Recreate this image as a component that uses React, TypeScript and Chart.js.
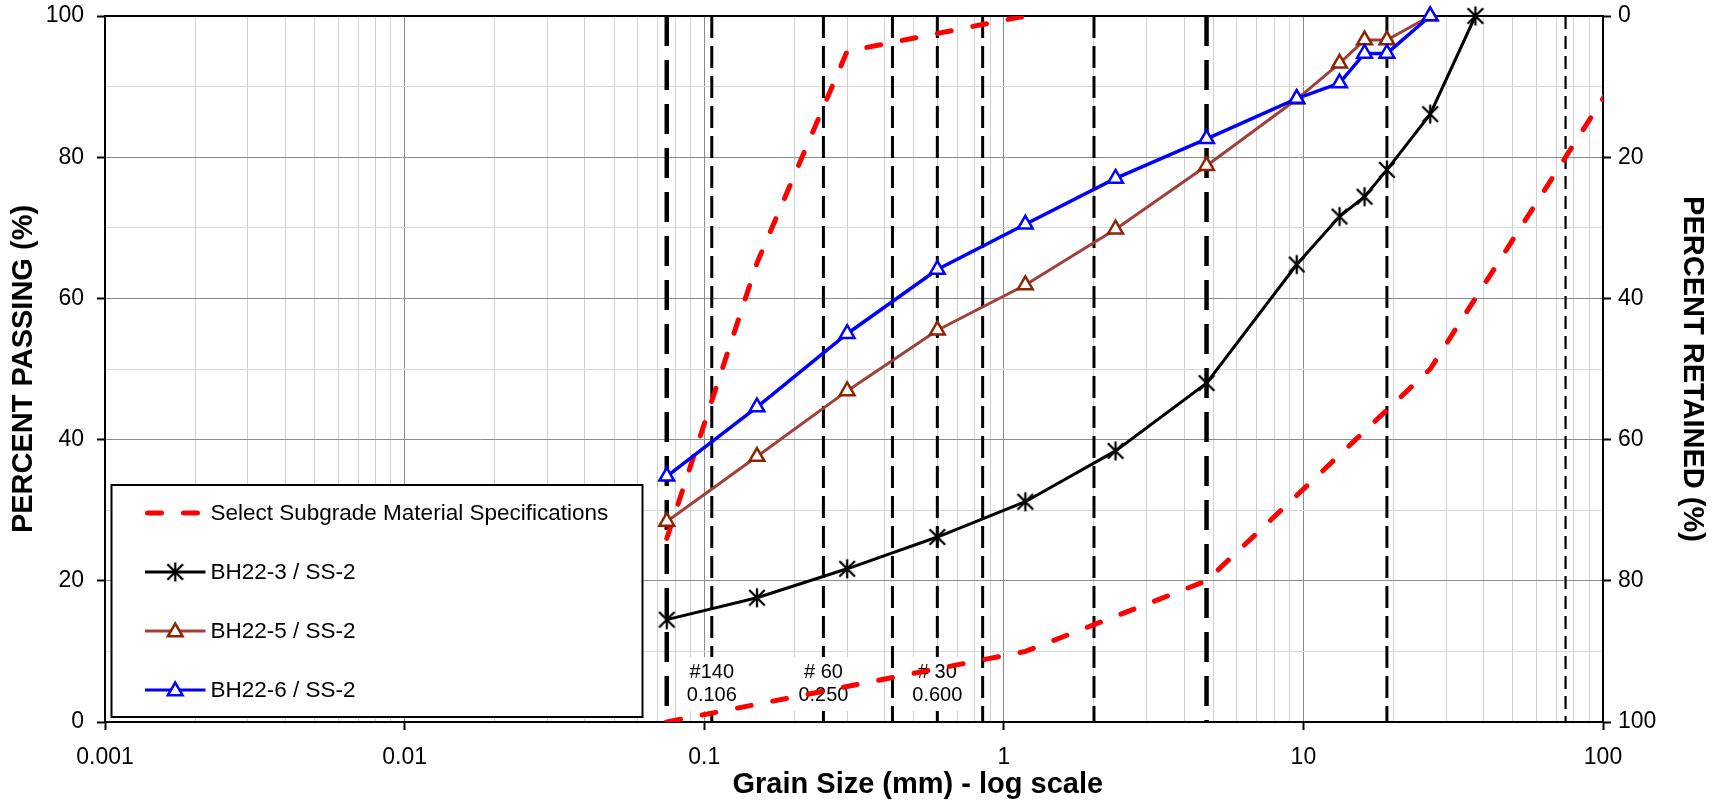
import React, { useEffect, useRef } from 'react';
import { Chart, registerables } from 'chart.js';

Chart.register(...registerables);

const FONT = '"Liberation Sans", Arial, Helvetica, sans-serif';

// ---- data (grain size in mm, percent passing) ----
const sieveSizes = [0.075, 0.15, 0.3, 0.6, 1.18, 2.36, 4.75, 9.5, 13.2, 16, 19, 26.5, 37.5];
const bh22_3Passing = [14.5, 17.6, 21.7, 26.2, 31.2, 38.4, 48.0, 64.8, 71.6, 74.4, 78.2, 86.1, 100];
const bh22_5Passing = [28.4, 37.6, 46.9, 55.5, 61.9, 69.8, 78.8, 88.2, 93.3, 96.6, 96.6, 100];
const bh22_6Passing = [34.8, 44.6, 55.0, 64.1, 70.5, 77.0, 82.6, 88.3, 90.5, 94.7, 94.7, 100];

const specUpperSizes = [0.075, 0.15, 0.3, 1.18];
const specUpperPassing = [26, 65, 95, 100];
const specLowerSizes = [0.075, 1.18, 4.75, 26.5, 75, 150];
const specLowerPassing = [0, 10, 20, 50, 80, 100];

const sieveLineSizes = [0.075, 0.106, 0.25, 0.425, 0.6, 0.85, 2.0, 4.75, 19, 75];
const heavySieveLines = [0.075, 4.75];
const lightSieveLines = [75];

const sieveLabelSizes = [0.106, 0.25, 0.6];
const sieveLabelNames = ['#140', '# 60', '# 30'];
const sieveLabelOpenings = ['0.106', '0.250', '0.600'];

const xDecades = [0.001, 0.01, 0.1, 1, 10, 100];
const xTickLabels = ['0.001', '0.01', '0.1', '1', '10', '100'];
const yTickValues = [0, 20, 40, 60, 80, 100];

const xTitle = 'Grain Size (mm) - log scale';
const yTitle = 'PERCENT PASSING (%)';
const y2Title = 'PERCENT RETAINED (%)';

const seriesNames = [
  'Select Subgrade Material Specifications',
  'BH22-3 / SS-2',
  'BH22-5 / SS-2',
  'BH22-6 / SS-2',
];

const RED = '#FF0000';
const BLACK = '#000000';
const BROWN_LINE = '#A0403A';
const BROWN_MARK = '#8B2500';
const BLUE = '#0000FF';

const pts = (xs: number[], ys: number[]) => xs.slice(0, ys.length).map((x, i) => ({ x, y: ys[i] }));

const xGridValues: number[] = (() => {
  const out: number[] = [];
  for (let d = 0; d < xDecades.length - 1; d++) {
    for (let m = 1; m <= 9; m++) out.push(Number((m * xDecades[d]).toPrecision(6)));
  }
  out.push(xDecades[xDecades.length - 1]);
  return out;
})();

const isDecade = (v: number) => xDecades.some((d) => Math.abs(d - v) / d < 1e-6);

function makeAsterisk(color: string) {
  const c = document.createElement('canvas');
  c.width = 22;
  c.height = 22;
  const g = c.getContext('2d')!;
  g.strokeStyle = color;
  g.lineWidth = 2.3;
  const m = 11;
  g.beginPath();
  g.moveTo(m, m - 9.5);
  g.lineTo(m, m + 9.5);
  g.moveTo(m - 7.8, m - 7.8);
  g.lineTo(m + 7.8, m + 7.8);
  g.moveTo(m + 7.8, m - 7.8);
  g.lineTo(m - 7.8, m + 7.8);
  g.stroke();
  return c;
}

function drawTriangle(ctx: CanvasRenderingContext2D, x: number, y: number, r: number, stroke: string) {
  ctx.save();
  ctx.beginPath();
  for (let k = 0; k < 3; k++) {
    const rad = (k * 2 * Math.PI) / 3;
    const px = x + Math.sin(rad) * r;
    const py = y - Math.cos(rad) * r;
    if (k === 0) ctx.moveTo(px, py);
    else ctx.lineTo(px, py);
  }
  ctx.closePath();
  ctx.fillStyle = '#fff';
  ctx.fill();
  ctx.lineWidth = 2.5;
  ctx.strokeStyle = stroke;
  ctx.stroke();
  ctx.restore();
}

const FIRST_SIEVE_INDEX = 5;
const TRI_R = 8.5;

const overlayPlugin = {
  id: 'overlay',
  beforeDatasetsDraw(chart: any) {
    const { ctx, chartArea: a } = chart;
    ctx.save();
    ctx.strokeStyle = '#000';
    ctx.lineWidth = 2;
    ctx.beginPath();
    ctx.moveTo(a.left - 1, a.top);
    ctx.lineTo(a.right + 1, a.top);
    ctx.stroke();
    ctx.restore();
  },
  afterDatasetDraw(chart: any, args: any) {
    if (args.index !== FIRST_SIEVE_INDEX) return;
    const { ctx, chartArea: a } = chart;
    const xs = chart.scales.x;
    ctx.save();
    ctx.font = `20px ${FONT}`;
    ctx.textAlign = 'center';
    ctx.textBaseline = 'middle';
    sieveLabelSizes.forEach((s, i) => {
      const cx = xs.getPixelForValue(s);
      const w = Math.max(ctx.measureText(sieveLabelNames[i]).width, ctx.measureText(sieveLabelOpenings[i]).width) + 16;
      ctx.fillStyle = '#fff';
      ctx.fillRect(cx - w / 2, a.bottom - 65, w, 54);
      ctx.fillStyle = '#000';
      ctx.fillText(sieveLabelNames[i], cx, a.bottom - 49.5);
      ctx.fillText(sieveLabelOpenings[i], cx, a.bottom - 26.5);
    });
    ctx.restore();
  },
  afterDraw(chart: any) {
    const { ctx, chartArea: a } = chart;
    // x axis title (placed right of centre, as in the source figure)
    ctx.save();
    ctx.fillStyle = '#000';
    ctx.font = `bold 29px ${FONT}`;
    ctx.textAlign = 'center';
    ctx.textBaseline = 'middle';
    ctx.fillText(xTitle, a.left + (a.right - a.left) * 0.5426, 784.5);
    ctx.restore();

    const bx = a.left + 6.5;
    const by = a.bottom - 237;
    const bw = 531;
    const bh = 232;
    ctx.save();
    ctx.fillStyle = '#fff';
    ctx.fillRect(bx, by, bw, bh);
    ctx.strokeStyle = '#000';
    ctx.lineWidth = 2;
    ctx.strokeRect(bx, by, bw, bh);
    const x1 = bx + 33.5;
    const x2 = bx + 94;
    const mx = (x1 + x2) / 2;
    seriesNames.forEach((name, i) => {
      const y = by + 28 + i * 59;
      ctx.save();
      if (i === 0) {
        ctx.strokeStyle = RED;
        ctx.lineWidth = 5;
        ctx.lineCap = 'round';
        ctx.setLineDash([14, 22]);
        ctx.beginPath();
        ctx.moveTo(x1 + 2.5, y);
        ctx.lineTo(x2, y);
        ctx.stroke();
      } else {
        const col = i === 1 ? BLACK : i === 2 ? BROWN_LINE : BLUE;
        ctx.strokeStyle = col;
        ctx.lineWidth = 3;
        ctx.beginPath();
        ctx.moveTo(x1, y);
        ctx.lineTo(x2, y);
        ctx.stroke();
        if (i === 1) {
          const img = makeAsterisk(BLACK);
          ctx.drawImage(img, mx - 11, y - 11);
        } else {
          drawTriangle(ctx, mx, y + 1, TRI_R, i === 2 ? BROWN_MARK : BLUE);
        }
      }
      ctx.restore();
      ctx.fillStyle = '#000';
      ctx.font = `22.5px ${FONT}`;
      ctx.textAlign = 'left';
      ctx.textBaseline = 'middle';
      ctx.fillText(name, bx + 99, y + 1);
    });
    ctx.restore();
  },
};

export default function App() {
  const ref = useRef<HTMLCanvasElement>(null);

  useEffect(() => {
    const canvas = ref.current;
    if (!canvas) return;
    const asterisk = makeAsterisk(BLACK);

    const sieveDatasets = sieveLineSizes.map((s) => {
      const heavy = heavySieveLines.includes(s);
      const light = lightSieveLines.includes(s);
      return {
        label: 'sieve ' + s,
        data: [
          { x: s, y: 100 },
          { x: s, y: 0 },
        ],
        borderColor: '#000',
        borderWidth: heavy ? 4.5 : light ? 2.2 : 3,
        borderDash: heavy ? [30, 14] : light ? [13, 7] : [22, 8],
        borderCapStyle: 'butt',
        pointRadius: 0,
        tension: 0,
        fill: false,
        order: 10,
      };
    });

    const tickFont = { family: FONT, size: 23 };
    const titleFont = { family: FONT, size: 29, weight: 'bold' as const };
    const noPad = (axis: any) => {
      axis.paddingTop = 0;
      axis.paddingBottom = 0;
      axis.paddingLeft = 0;
      axis.paddingRight = 0;
    };

    const chart = new Chart(canvas, {
      type: 'line',
      data: {
        datasets: [
          {
            label: seriesNames[0],
            data: pts(specUpperSizes, specUpperPassing),
            borderColor: RED,
            borderWidth: 5,
            borderDash: [14, 22],
            borderCapStyle: 'round',
            pointRadius: 0,
            tension: 0,
            fill: false,
            order: 3,
          },
          {
            label: seriesNames[0] + ' (lower)',
            data: pts(specLowerSizes, specLowerPassing),
            borderColor: RED,
            borderWidth: 5,
            borderDash: [14, 22],
            borderCapStyle: 'round',
            pointRadius: 0,
            tension: 0,
            fill: false,
            order: 3,
          },
          {
            label: seriesNames[1],
            data: pts(sieveSizes, bh22_3Passing),
            borderColor: BLACK,
            borderWidth: 3,
            pointStyle: asterisk,
            pointRadius: 9,
            tension: 0,
            fill: false,
            clip: false,
            order: 2,
          },
          {
            label: seriesNames[2],
            data: pts(sieveSizes, bh22_5Passing),
            borderColor: BROWN_LINE,
            borderWidth: 3,
            pointStyle: 'triangle',
            pointRadius: TRI_R,
            pointBorderWidth: 2.5,
            pointBorderColor: BROWN_MARK,
            pointBackgroundColor: '#fff',
            tension: 0,
            fill: false,
            clip: false,
            order: 1,
          },
          {
            label: seriesNames[3],
            data: pts(sieveSizes, bh22_6Passing),
            borderColor: BLUE,
            borderWidth: 3.5,
            pointStyle: 'triangle',
            pointRadius: TRI_R,
            pointBorderWidth: 2.5,
            pointBorderColor: BLUE,
            pointBackgroundColor: '#fff',
            tension: 0,
            fill: false,
            clip: false,
            order: 0,
          },
          ...sieveDatasets,
        ] as any,
      },
      options: {
        responsive: false,
        animation: false,
        devicePixelRatio: 1,
        events: [],
        layout: { padding: { top: 16, left: 0, right: 0, bottom: 0 } },
        plugins: {
          legend: { display: false },
          tooltip: { enabled: false },
        },
        scales: {
          x: {
            type: 'logarithmic',
            position: 'bottom',
            min: xDecades[0],
            max: xDecades[xDecades.length - 1],
            afterBuildTicks: (axis: any) => {
              axis.ticks = xGridValues.map((v) => ({ value: v }));
            },
            afterFit: (axis: any) => {
              axis.height = 80;
              noPad(axis);
            },
            ticks: {
              autoSkip: false,
              maxRotation: 0,
              minRotation: 0,
              padding: 14,
              color: '#000',
              font: tickFont,
              callback: (v: any) => {
                const idx = xDecades.findIndex((d) => Math.abs(d - v) / d < 1e-6);
                return idx >= 0 ? xTickLabels[idx] : '';
              },
            },
            grid: {
              color: (c: any) => (c.tick && isDecade(c.tick.value) ? '#8a8a8a' : '#d0d0d0'),
              lineWidth: 1,
              tickLength: 8,
              tickWidth: 2,
              tickColor: (c: any) => (c.tick && isDecade(c.tick.value) ? '#000' : 'rgba(0,0,0,0)'),
            },
            border: { color: '#000', width: 2 },
            title: { display: false },
          },
          y: {
            type: 'linear',
            position: 'left',
            min: 0,
            max: 100,
            afterFit: (axis: any) => {
              axis.width = 105;
              noPad(axis);
            },
            ticks: {
              stepSize: 10,
              autoSkip: false,
              padding: 13,
              color: '#000',
              font: tickFont,
              callback: (v: any) => (yTickValues.includes(v) ? String(v) : ''),
            },
            grid: {
              color: (c: any) => (c.tick && yTickValues.includes(c.tick.value) ? '#8c8c8c' : '#dadada'),
              lineWidth: 1,
              tickLength: 8,
              tickWidth: 2,
              tickColor: (c: any) => (c.tick && yTickValues.includes(c.tick.value) ? '#000' : 'rgba(0,0,0,0)'),
            },
            border: { color: '#000', width: 2 },
            title: {
              display: true,
              text: yTitle,
              color: '#000',
              font: titleFont,
              padding: { top: 7, bottom: 0 },
            },
          },
          y2: {
            type: 'linear',
            position: 'right',
            min: 0,
            max: 100,
            reverse: true,
            afterFit: (axis: any) => {
              axis.width = 114;
              noPad(axis);
            },
            ticks: {
              stepSize: 20,
              autoSkip: false,
              padding: 7,
              color: '#000',
              font: tickFont,
              callback: (v: any) => String(v),
            },
            grid: {
              drawOnChartArea: false,
              tickLength: 8,
              tickWidth: 2,
              tickColor: '#000',
            },
            border: { color: '#000', width: 2 },
            title: {
              display: true,
              text: y2Title,
              color: '#000',
              font: titleFont,
              padding: { top: 8, bottom: 0 },
            },
          },
        },
      } as any,
      plugins: [overlayPlugin],
    });

    return () => {
      chart.destroy();
    };
  }, []);

  return (
    <div style={{ position: 'fixed', left: 0, top: 0, width: 1717, height: 802, background: '#fff' }}>
      <canvas ref={ref} width={1717} height={802} style={{ display: 'block', width: 1717, height: 802 }} />
    </div>
  );
}
